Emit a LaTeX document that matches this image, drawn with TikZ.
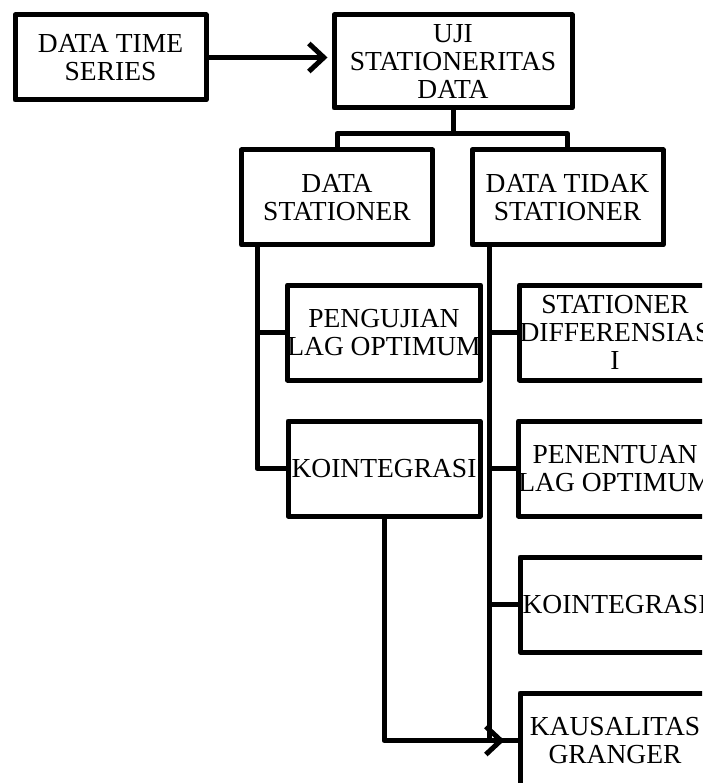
\documentclass[tikz,border=0pt]{standalone}
\usepackage{fontspec}
\setmainfont{Liberation Serif}
\usetikzlibrary{arrows.meta,calc}

\begin{document}
\begin{tikzpicture}[x=1pt,y=-1pt,line width=5pt,line join=round,
  >={Straight Barb[length=15pt,width=28pt]},
  blok/.style={draw,minimum width=191pt,minimum height=95pt,inner sep=0pt,
    align=center,font=\fontsize{27.5}{28}\selectfont}]
  \useasboundingbox (0,0) rectangle (702,783);
  \clip (0,0) rectangle (702,783);
  % baris atas
  \node[blok,minimum height=85pt] (series) at (110.5,57.5) {DATA TIME\\SERIES};
  \node[blok,minimum width=238pt,minimum height=93pt] (uji) at (453,61.5) {UJI\\STATIONERITAS\\DATA};
  \node[blok] (stat) at (337,197.5) {DATA\\STATIONER};
  \node[blok] (tidak) at (567.5,197.5) {DATA TIDAK\\STATIONER};
  % cabang kiri
  \node[blok,minimum width=192pt] (lag) at (384,332.5) {PENGUJIAN\\LAG OPTIMUM};
  \node[blok,minimum width=192pt] (koin1) at (384,468.5) {KOINTEGRASI};
  % cabang kanan
  \node[blok,minimum width=190pt] (diff) at (615,332.5) {STATIONER\\DIFFERENSIAS\\I};
  \node[blok,minimum width=190pt] (tentu) at (615,468.5) {PENENTUAN\\LAG OPTIMUM};
  \node[blok,minimum width=190pt] (koin2) at (615,604.5) {KOINTEGRASI};
  \node[blok,minimum width=190pt] (granger) at (615,740.5) {KAUSALITAS\\GRANGER};

  \draw[->,shorten >=4pt] (series.east) -- (series.east -| uji.west);
  \draw (uji.south) -- ++(0,23) coordinate (j);
  \draw (stat.north) |- (j) -| (tidak.north);

  \draw (stat.south west) ++(18,0) coordinate (ls) |- (koin1.west);
  \draw (ls |- lag.west) -- (lag.west);

  \draw (tidak.south west) ++(20,0) coordinate (rs) |- (granger.west);
  \foreach \n in {diff,tentu,koin2}
    \draw (rs |- \n.west) -- (\n.west);

  \draw[->,shorten >=13pt] (koin1.south) |- (granger.west);
\end{tikzpicture}
\end{document}
